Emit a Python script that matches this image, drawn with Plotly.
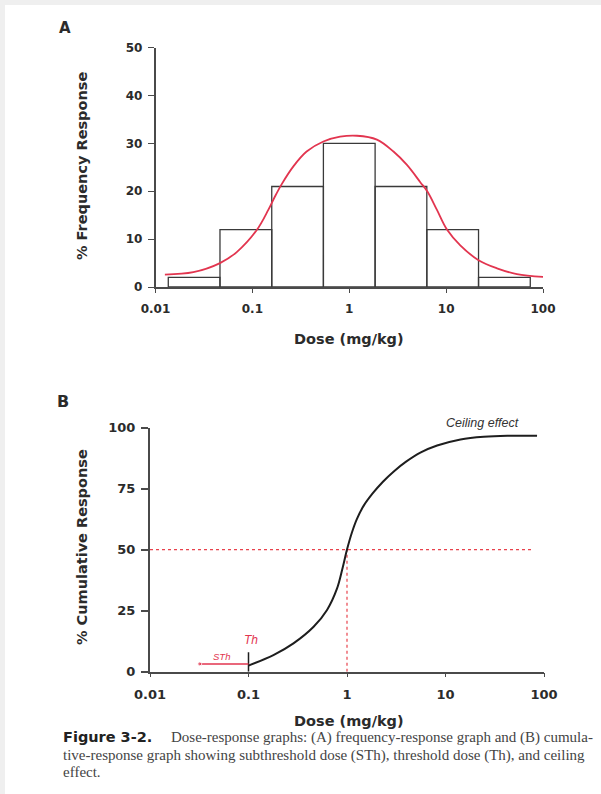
import plotly.graph_objects as go

W, H = 601, 794

# ---------------- Data: panel A ----------------
bin_edges = [0.01355, 0.0463, 0.1585, 0.541, 1.849, 6.32, 21.6, 73.9]
bin_freq = [2, 12, 21, 30, 21, 12, 2]

fit_dose = [0.0125, 0.0246, 0.0463, 0.069, 0.111, 0.146, 0.171, 0.201, 0.265,
            0.363, 0.541, 0.805, 1.2, 1.93, 2.86, 3.94, 5.41, 6.43, 8.04,
            10.2, 14.0, 21.6, 33.5, 53.8, 101]
fit_freq = [2.6, 3.1, 5.0, 7.3, 11.9, 16.1, 18.9, 21.5, 25.2,
            28.3, 30.4, 31.4, 31.6, 30.8, 28.3, 25.5, 21.9, 19.9, 16.1,
            12.0, 8.7, 5.6, 3.9, 2.7, 2.1]

# ---------------- Data: panel B ----------------
cum_dose = [0.1, 0.179, 0.286, 0.458, 0.627, 0.791, 0.902, 1.0, 1.122, 1.259,
            1.479, 1.82, 2.317, 2.985, 3.98, 5.62, 8.22, 14.2, 24.5, 42.4, 85]
cum_resp = [2.5, 6.8, 11.6, 18.4, 25.3, 34.0, 42.5, 50.0, 57.0, 62.5,
            68.0, 73.0, 77.8, 82.0, 86.0, 89.8, 92.6, 95.1, 96.2, 96.6, 96.6]

ed50_dose = 1.0
ed50_resp = 50
th_dose = 0.1
th_height = 8
sth_dose = 0.032
sth_level = 3.2

tick_vals = [0.01, 0.1, 1, 10, 100]
tick_text = ["0.01", "0.1", "1", "10", "100"]
ya_ticks = [0, 10, 20, 30, 40, 50]
yb_ticks = [0, 25, 50, 75, 100]


def px(x):
    return x / W


def py(y):
    return 1 - y / H


RED = "#e2354f"
DASH_RED = "#e8424c"
AX = "#4a4a4a"
TXT = "#2b2b2b"
FONT = "DejaVu Sans"
SERIF = "Liberation Serif"

fig = go.Figure()

# histogram bars as closed outlines
bx, by = [], []
for i, h in enumerate(bin_freq):
    e0, e1 = bin_edges[i], bin_edges[i + 1]
    bx += [e0, e0, e1, e1, e0, None]
    by += [0, h, h, 0, 0, None]
fig.add_trace(go.Scatter(x=bx, y=by, mode="lines", fill="toself",
                         fillcolor="white", line=dict(color="#3a3a3a", width=1.3),
                         xaxis="x", yaxis="y", hoverinfo="skip"))
fig.add_trace(go.Scatter(x=fit_dose, y=fit_freq, mode="lines",
                         line=dict(color=RED, width=1.8, shape="spline", smoothing=1.0),
                         xaxis="x", yaxis="y"))

# panel B reference lines
fig.add_trace(go.Scatter(x=[0.01, 74], y=[ed50_resp, ed50_resp], mode="lines",
                         line=dict(color=DASH_RED, width=1.2, dash="3px,3px"),
                         xaxis="x2", yaxis="y2"))
fig.add_trace(go.Scatter(x=[ed50_dose, ed50_dose], y=[0, ed50_resp], mode="lines",
                         line=dict(color=DASH_RED, width=1.2, dash="3px,3px"),
                         xaxis="x2", yaxis="y2"))
fig.add_trace(go.Scatter(x=cum_dose, y=cum_resp, mode="lines",
                         line=dict(color="#1e1e1e", width=2, shape="spline", smoothing=1.0),
                         xaxis="x2", yaxis="y2"))
fig.add_trace(go.Scatter(x=[th_dose, th_dose], y=[0, th_height], mode="lines",
                         line=dict(color="#1e1e1e", width=1.5),
                         xaxis="x2", yaxis="y2"))
fig.add_trace(go.Scatter(x=[sth_dose, th_dose], y=[sth_level, sth_level],
                         mode="lines+markers",
                         marker=dict(size=[4, 0], color=RED),
                         line=dict(color=RED, width=1.5),
                         xaxis="x2", yaxis="y2"))

common_x = dict(type="log", range=[-2, 2], tickvals=tick_vals, ticktext=tick_text,
                showline=True, linecolor=AX, linewidth=1.5, ticks="outside",
                tickcolor=AX, tickwidth=1.2, showgrid=False, zeroline=False,
                automargin=False)

fig.update_layout(
    template="none",
    width=W, height=H, margin=dict(l=0, r=0, t=0, b=0, pad=0), autosize=False,
    paper_bgcolor="#efefef", plot_bgcolor="white", showlegend=False,
    xaxis=dict(**common_x, domain=[px(155.5), px(543)], anchor="y", ticklen=4,
               tickfont=dict(family=FONT, size=12, color=TXT, weight="bold"),
               ticklabelstandoff=6),
    yaxis=dict(range=[0, 50], tickvals=ya_ticks, domain=[py(287), py(47.7)],
               anchor="x", showline=True, linecolor=AX, linewidth=1.5,
               ticks="outside", ticklen=6, tickcolor=AX, tickwidth=1.2,
               showgrid=False, zeroline=False, ticklabelstandoff=3, automargin=False,
               tickfont=dict(family=FONT, size=12, color=TXT, weight="bold")),
    xaxis2=dict(**common_x, domain=[px(150), px(544)], anchor="y2", ticklen=4,
                tickfont=dict(family=FONT, size=13, color=TXT, weight="bold"),
                ticklabelstandoff=6),
    yaxis2=dict(range=[0, 100], tickvals=yb_ticks, domain=[py(671.7), py(427.5)],
                anchor="x2", showline=True, linecolor=AX, linewidth=2,
                ticks="outside", ticklen=7, tickcolor=AX, tickwidth=1.5,
                showgrid=False, zeroline=False, ticklabelstandoff=3, automargin=False,
                tickfont=dict(family=FONT, size=13, color=TXT, weight="bold")),
)

fig.add_shape(type="rect", xref="paper", yref="paper", x0=px(5), x1=1,
              y0=0, y1=py(5), fillcolor="white", line=dict(width=0), layer="below")

ann = []


def text(x, y, s, size, bold=True, italic=False, color=TXT, angle=0, family=FONT,
         xanchor="center"):
    ann.append(dict(x=px(x), y=py(y), xref="paper", yref="paper", text=s,
                    showarrow=False, textangle=angle, xanchor=xanchor,
                    yanchor="middle",
                    font=dict(family=family, size=size, color=color,
                              weight="bold" if bold else "normal",
                              style="italic" if italic else "normal")))


text(65, 28, "A", 15)
text(63, 401, "B", 16)
text(82, 166, "% Frequency Response", 14.5, angle=-90)
text(349, 339, "Dose (mg/kg)", 14.5)
text(82, 547, "% Cumulative Response", 14.5, angle=-90)
text(349, 721, "Dose (mg/kg)", 14.5)

# in-plot labels for panel B
text(251, 640, "Th", 12, bold=False, italic=True, color=RED, family="Liberation Sans")
text(221, 656, "STh", 9.5, bold=False, italic=True, color=RED, family="Liberation Sans")
text(482, 423, "Ceiling effect", 12.5, bold=False, italic=True, color="#333",
     family="Liberation Sans")

# caption
text(61, 737, "Figure 3-2.", 14.5, xanchor="left", color="#222")
text(169, 737, "Dose-response graphs: (A) frequency-response graph and (B) cumula-",
     15, bold=False, color="#444", family=SERIF, xanchor="left")
text(61, 755, "tive-response graph showing subthreshold dose (STh), threshold dose (Th), and ceiling",
     15, bold=False, color="#444", family=SERIF, xanchor="left")
text(61, 772, "effect.", 15, bold=False, color="#444", family=SERIF,
     xanchor="left")

fig.update_layout(annotations=ann)
fig.write_html("out.html", config={"displayModeBar": False},
               post_script="document.body.style.margin='0';document.body.style.padding='0';")
